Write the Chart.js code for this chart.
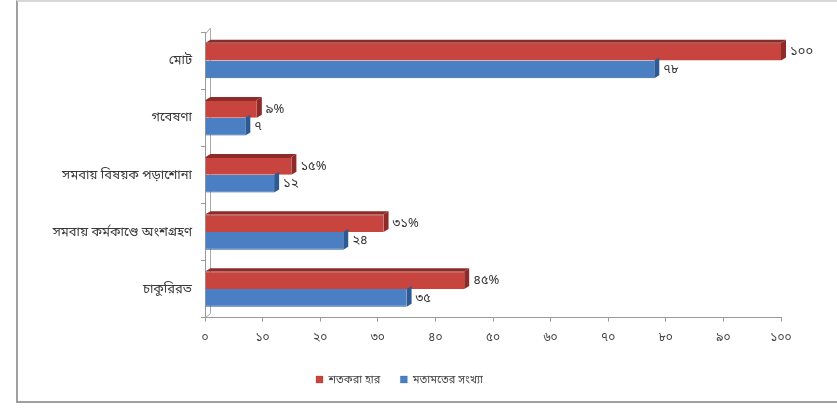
<!DOCTYPE html>
<html>
<head>
<meta charset="utf-8">
<script src="https://cdn.jsdelivr.net/npm/chart.js@4.4.1/dist/chart.umd.min.js"></script>
<style>
  html, body { margin: 0; padding: 0; background: #fff; }
  #frame {
    position: absolute; left: 16px; top: 0px;
    width: 830px; height: 399px;
    border-left: 2px solid #a0a0a0;
    border-top: 2px solid #d8d8d8;
    border-bottom: 2px solid #a0a0a0;
  }
  #wrap { position: absolute; left: 0; top: 0; width: 820px; height: 399px; }
</style>
</head>
<body>
<div id="frame"><div id="wrap"><canvas id="opinionChart"></canvas></div></div>
<script>
// categories, top to bottom
let categories = ["মোট", "গবেষণা", "সমবায় বিষয়ক পড়াশোনা", "সমবায় কর্মকাণ্ডে অংশগ্রহণ", "চাকুরিরত"];
let percentValues = [100, 9, 15, 31, 45];
let countValues = [78, 7, 12, 24, 35];
let percentSuffix = ["", "%", "%", "%", "%"];
let tickLabels = ["০", "১০", "২০", "৩০", "৪০", "৫০", "৬০", "৭০", "৮০", "৯০", "১০০"];
let seriesNames = ["শতকরা হার", "মতামতের সংখ্যা"];

const bnDigits = ["০", "১", "২", "৩", "৪", "৫", "৬", "৭", "৮", "৯"];
function toBangla(n) {
    return String(n).replace(/[0-9]/g, function (d) { return bnDigits[+d]; });
}

const RED = "#c8443f";
const RED_DARK = "#8e2b28";
const BLUE = "#4a7fc4";
const BLUE_DARK = "#2d5a93";
const FONT = "'Noto Sans', 'Noto Sans Bengali', 'Lohit Bengali', sans-serif";

// little 3d end caps, the back wall edge and the value text after each bar
const barExtras = {
    id: "barExtras",
    beforeDatasetsDraw(chart) {
        const ctx = chart.ctx;
        const a = chart.chartArea;
        ctx.save();
        ctx.strokeStyle = "#aaa";
        ctx.lineWidth = 1;
        ctx.beginPath();
        ctx.moveTo(a.left + 5.5, a.top - 4);
        ctx.lineTo(a.left + 5.5, a.bottom - 4);
        ctx.lineTo(a.left + 0.5, a.bottom);
        ctx.moveTo(a.left + 0.5, a.top + 2);
        ctx.lineTo(a.left + 5.5, a.top - 4);
        ctx.stroke();
        ctx.restore();
    },
    afterDatasetsDraw(chart) {
        const ctx = chart.ctx;
        const dx = 5, dy = 3;
        [1, 0].forEach(function (di) {
            const meta = chart.getDatasetMeta(di);
            const dark = di === 0 ? RED_DARK : BLUE_DARK;
            meta.data.forEach(function (bar) {
                const top = bar.y - bar.height / 2;
                const bot = bar.y + bar.height / 2;
                ctx.save();
                ctx.fillStyle = dark;
                ctx.beginPath();
                ctx.moveTo(bar.x, top);
                ctx.lineTo(bar.x + dx, top - dy);
                ctx.lineTo(bar.x + dx, bot - dy);
                ctx.lineTo(bar.x, bot);
                ctx.closePath();
                ctx.fill();
                if (di === 0) {
                    ctx.beginPath();
                    ctx.moveTo(bar.base, top);
                    ctx.lineTo(bar.base + dx, top - dy);
                    ctx.lineTo(bar.x + dx, top - dy);
                    ctx.lineTo(bar.x, top);
                    ctx.closePath();
                    ctx.fill();
                }
                ctx.restore();
            });
        });
        ctx.save();
        ctx.font = "13px " + FONT;
        ctx.fillStyle = "#333";
        ctx.textBaseline = "middle";
        chart.data.datasets.forEach(function (ds, di) {
            chart.getDatasetMeta(di).data.forEach(function (bar, i) {
                let txt = toBangla(ds.data[i]) + (di === 0 ? percentSuffix[i] : "");
                ctx.fillText(txt, bar.x + dx + 4, bar.y);
            });
        });
        ctx.restore();
    }
};

new Chart("opinionChart", {
    type: "bar",
    data: {
        labels: categories,
        datasets: [{
            label: seriesNames[0],
            data: percentValues,
            backgroundColor: RED,
            borderColor: RED_DARK,
            borderWidth: {top: 1, bottom: 0, left: 0, right: 0}
        }, {
            label: seriesNames[1],
            data: countValues,
            backgroundColor: BLUE,
            borderColor: BLUE_DARK,
            borderWidth: {top: 0, bottom: 1, left: 0, right: 0}
        }]
    },
    options: {
        indexAxis: "y",
        responsive: true,
        maintainAspectRatio: false,
        animation: false,
        categoryPercentage: 0.62,
        barPercentage: 1.0,
        layout: {padding: {top: 30, right: 57, bottom: 6, left: 0}},
        scales: {
            x: {
                min: 0, max: 100,
                ticks: {
                    stepSize: 10,
                    color: "#444",
                    font: {size: 12, family: FONT},
                    padding: 9,
                    callback: function (v) { return tickLabels[v / 10]; }
                },
                grid: {display: true, drawOnChartArea: false, tickLength: 4, color: "#999"},
                border: {color: "#999"}
            },
            y: {
                afterFit: function (scale) { scale.width = 187; },
                ticks: {color: "#3a3a3a", font: {size: 13, family: FONT}, padding: 9},
                grid: {display: true, drawOnChartArea: false, offset: true, tickLength: 4, color: "#999"},
                border: {color: "#999"}
            }
        },
        plugins: {
            legend: {
                position: "bottom",
                labels: {
                    boxWidth: 7, boxHeight: 7,
                    color: "#444",
                    font: {size: 11, family: FONT},
                    padding: 20
                }
            },
            tooltip: {enabled: false}
        }
    },
    plugins: [barExtras]
});
</script>
</body>
</html>
